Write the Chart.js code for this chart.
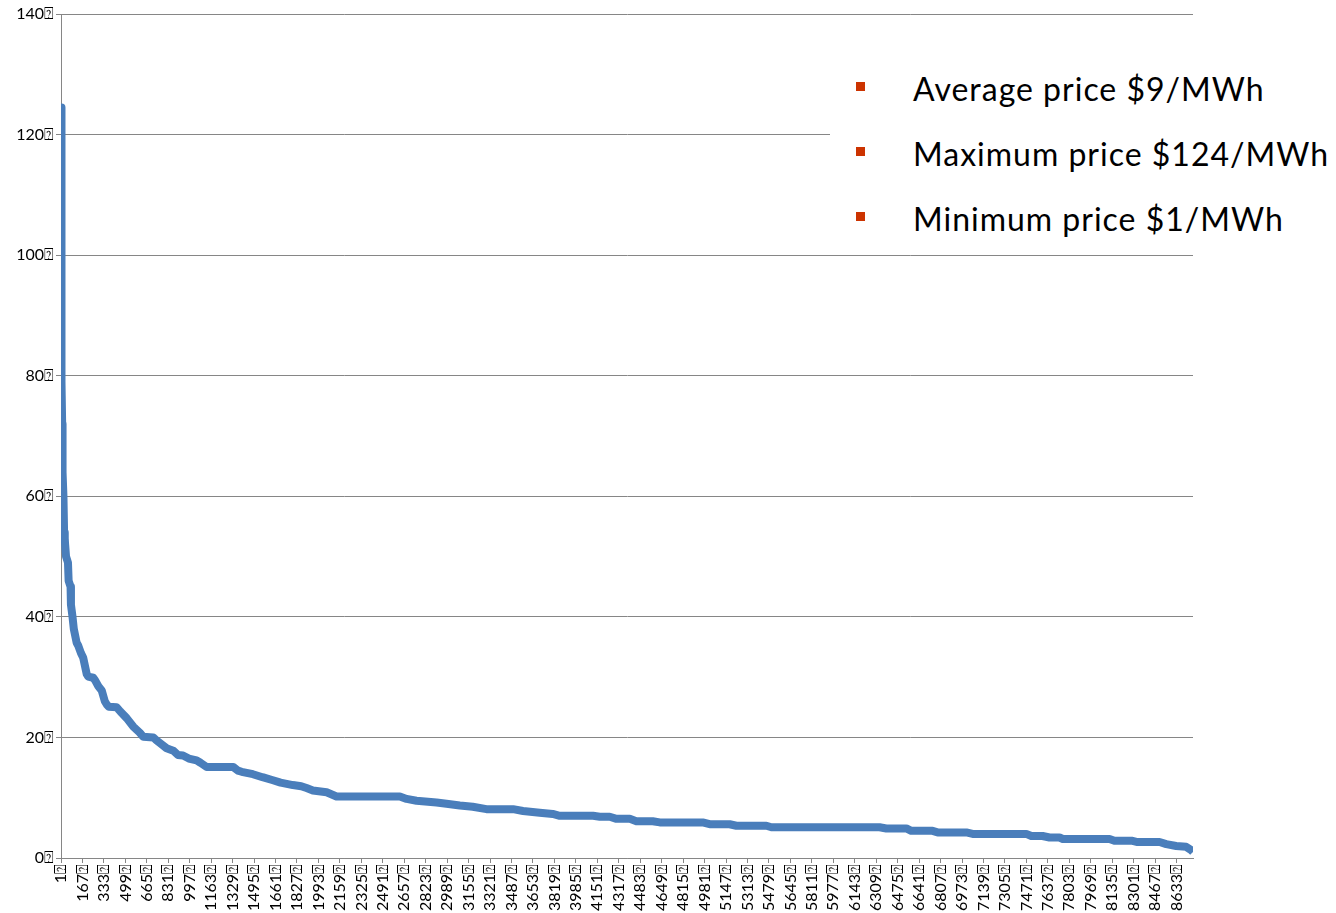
<!DOCTYPE html>
<html>
<head>
<meta charset="utf-8">
<script src="https://cdn.jsdelivr.net/npm/chart.js@4"></script>
<style>
  html, body { margin: 0; padding: 0; background: #fff; }
  #wrap { position: relative; width: 1336px; height: 913px; }
  #legend {
    position: absolute; left: 830px; top: 22px; width: 506px; height: 228px;
    background: #fff; font-family: Lato, "Open Sans", sans-serif; font-size: 32px; letter-spacing: 1px; color: #000;
  }
  #legend div { position: absolute; left: 83px; white-space: nowrap; }
  #legend span {
    position: absolute; left: -57px; top: 13px; width: 9px; height: 9px; background: #cc3300;
  }
</style>
</head>
<body>
<div id="wrap">
  <canvas id="priceChart" width="1336" height="913"></canvas>
  <div id="legend">
    <div style="top:47px"><span></span>Average price $9/MWh</div>
    <div style="top:112px"><span></span>Maximum price $124/MWh</div>
    <div style="top:177px"><span></span>Minimum price $1/MWh</div>
  </div>
</div>
<script>
// price duration curve, hours sorted by price
const hours = [1, 2, 3, 5, 6, 8, 10, 12, 14, 20, 25, 30, 33, 40, 55, 60, 75, 78, 90, 100,
  122, 135, 155, 173, 200, 212, 250, 264, 290, 316, 340, 354, 370, 432, 460, 509, 560, 610, 637, 715,
  740, 770, 818, 870, 905, 945, 990, 1050, 1080, 1128, 1334, 1370, 1399, 1486, 1560, 1641, 1700, 1795, 1860, 1901,
  1950, 2056, 2133, 2623, 2675, 2752, 2907, 2984, 3087, 3187, 3293, 3499, 3576, 3705, 3806, 3860, 4118, 4170, 4247, 4299,
  4402, 4453, 4580, 4634, 4966, 5020, 5175, 5227, 5459, 5498, 6335, 6387, 6542, 6580, 6745, 6784, 7006, 7055, 7470, 7509,
  7596, 7650, 7727, 7753, 8114, 8152, 8292, 8331, 8501, 8553, 8630, 8707, 8746, 8760];
const prices = [124.5, 110, 95, 85, 80, 79, 72, 65, 64, 60, 54, 53, 52, 50, 49, 46, 45, 42, 40, 38,
  35.7, 35.2, 34, 33.2, 30.5, 30.1, 29.9, 29.5, 28.5, 27.8, 26, 25.5, 25.1, 25.0, 24.3, 23.2, 21.8, 20.8, 20.1, 20.0,
  19.5, 19.0, 18.2, 17.8, 17.1, 17.0, 16.5, 16.2, 15.8, 15.1, 15.1, 14.5, 14.3, 13.9, 13.4, 12.9, 12.5, 12.1, 11.9, 11.6,
  11.2, 10.9, 10.2, 10.2, 9.8, 9.5, 9.2, 9.0, 8.7, 8.5, 8.1, 8.1, 7.8, 7.5, 7.3, 7.0, 7.0, 6.85, 6.85, 6.5,
  6.5, 6.1, 6.1, 5.9, 5.9, 5.6, 5.6, 5.35, 5.35, 5.1, 5.1, 4.9, 4.9, 4.5, 4.5, 4.25, 4.25, 4.0, 4.0, 3.65,
  3.65, 3.4, 3.4, 3.15, 3.15, 2.85, 2.85, 2.65, 2.65, 2.3, 2.0, 1.85, 1.3, 1.0];

const xTicks = [];
for (let h = 1; h <= 8633; h += 166) xTicks.push(h);
const yTicks = [0, 20, 40, 60, 80, 100, 120, 140];
const box = "\u2370";

const gridGrey = "#868686";

new Chart(document.getElementById("priceChart"), {
  type: 'line',
  data: {
    datasets: [{
      data: hours.map((h, i) => ({ x: h, y: prices[i] })),
      borderColor: '#4a7ebb',
      borderWidth: 8,
      borderJoinStyle: 'round',
      borderCapStyle: 'butt',
      pointRadius: 0,
      tension: 0,
      fill: false
    }]
  },
  options: {
    responsive: false,
    animation: false,
    layout: { padding: { top: 14, right: 143, left: 0, bottom: 0 } },
    plugins: { legend: { display: false }, tooltip: { enabled: false } },
    scales: {
      x: {
        type: 'linear',
        min: 1,
        max: 8760,
        afterBuildTicks: (scale) => { scale.ticks = xTicks.map(v => ({ value: v })); },
        afterFit: (scale) => { scale.height = 55; },
        grid: { drawOnChartArea: false, color: gridGrey, tickLength: 5 },
        border: { color: gridGrey },
        ticks: {
          autoSkip: false,
          maxRotation: 90,
          minRotation: 90,
          padding: 1,
          color: '#000',
          font: { family: 'Lato, "Open Sans", sans-serif', size: 16 },
          callback: (v) => v + box
        }
      },
      y: {
        min: 0,
        max: 140,
        afterBuildTicks: (scale) => { scale.ticks = yTicks.map(v => ({ value: v })); },
        afterFit: (scale) => { scale.width = 61; },
        grid: { color: gridGrey, tickLength: 5 },
        border: { color: gridGrey },
        ticks: {
          padding: 2,
          color: '#000',
          font: { family: 'Lato, "Open Sans", sans-serif', size: 16 },
          callback: (v) => v + box
        }
      }
    }
  }
});
</script>
</body>
</html>
